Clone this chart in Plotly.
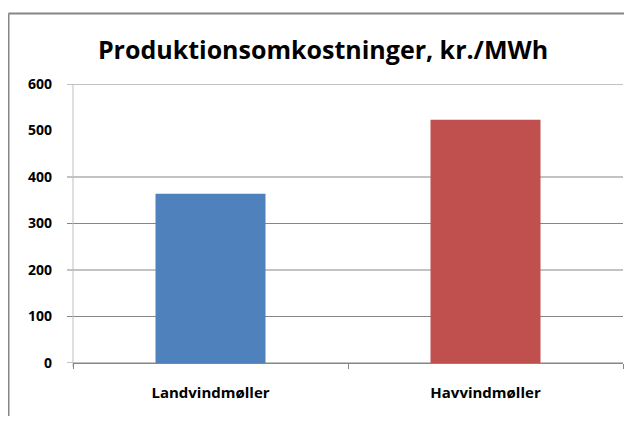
import plotly.graph_objects as go

categories = ["Landvindmøller", "Havvindmøller"]
values = [364, 523]
colors = ["#4F81BD", "#C0504D"]
y_ticks = [0, 100, 200, 300, 400, 500, 600]
grid_values = [0, 100, 200, 300, 400, 600]  # 500 gridline absent in source

fig = go.Figure(go.Bar(x=categories, y=values, marker=dict(color=colors, line=dict(width=0)), width=0.4))

# page body has an 8px default margin; figure sized so the page fits the 632x424 window
W, H = 616, 408
L, R, T, B = 65, 1, 76, 53
pw, ph = W - L - R, H - T - B

shapes = []
for g in grid_values:
    shapes.append(dict(type="line", xref="paper", yref="y", x0=-6 / pw, x1=1, y0=g, y1=g,
                       line=dict(color="#868686", width=1), layer="below"))
# y axis line
shapes.append(dict(type="line", xref="paper", yref="paper", x0=0, x1=0, y0=-4 / ph, y1=1,
                   line=dict(color="#BFBFBF", width=1), layer="below"))
# outer chart border (only top and left edges fall inside the view)
top_y = (H - B - 5.5) / ph
left_x = (0.5 - L) / pw
shapes.append(dict(type="line", xref="paper", yref="paper", x0=left_x, x1=(W - L) / pw,
                   y0=top_y, y1=top_y, line=dict(color="#868686", width=2)))
shapes.append(dict(type="line", xref="paper", yref="paper", x0=left_x, x1=left_x,
                   y0=-B / ph, y1=top_y, line=dict(color="#868686", width=2)))

fig.update_layout(
    width=W, height=H,
    margin=dict(l=L, r=R, t=T, b=B),
    paper_bgcolor="white", plot_bgcolor="white",
    showlegend=False,
    title=dict(text="Produktionsomkostninger, kr./MWh", x=315 / W, xanchor="center",
               y=1 - 42 / H, yanchor="middle", yref="container",
               font=dict(family="Open Sans", size=25, color="black", weight="bold")),
    shapes=shapes,
    xaxis=dict(showgrid=False, showline=True, linecolor="#868686", linewidth=1,
               ticks="outside", tickson="boundaries", ticklen=5, tickcolor="#868686",
               tickfont=dict(family="Open Sans", size=15, color="black", weight="bold"),
               ticklabelstandoff=16, fixedrange=True),
    yaxis=dict(range=[0, 600], tickvals=y_ticks, showgrid=False, zeroline=False, showline=False,
               ticks="", ticklabelstandoff=20,
               tickfont=dict(family="Open Sans", size=14, color="black", weight="bold")),
)

fig.write_html("out.html")
